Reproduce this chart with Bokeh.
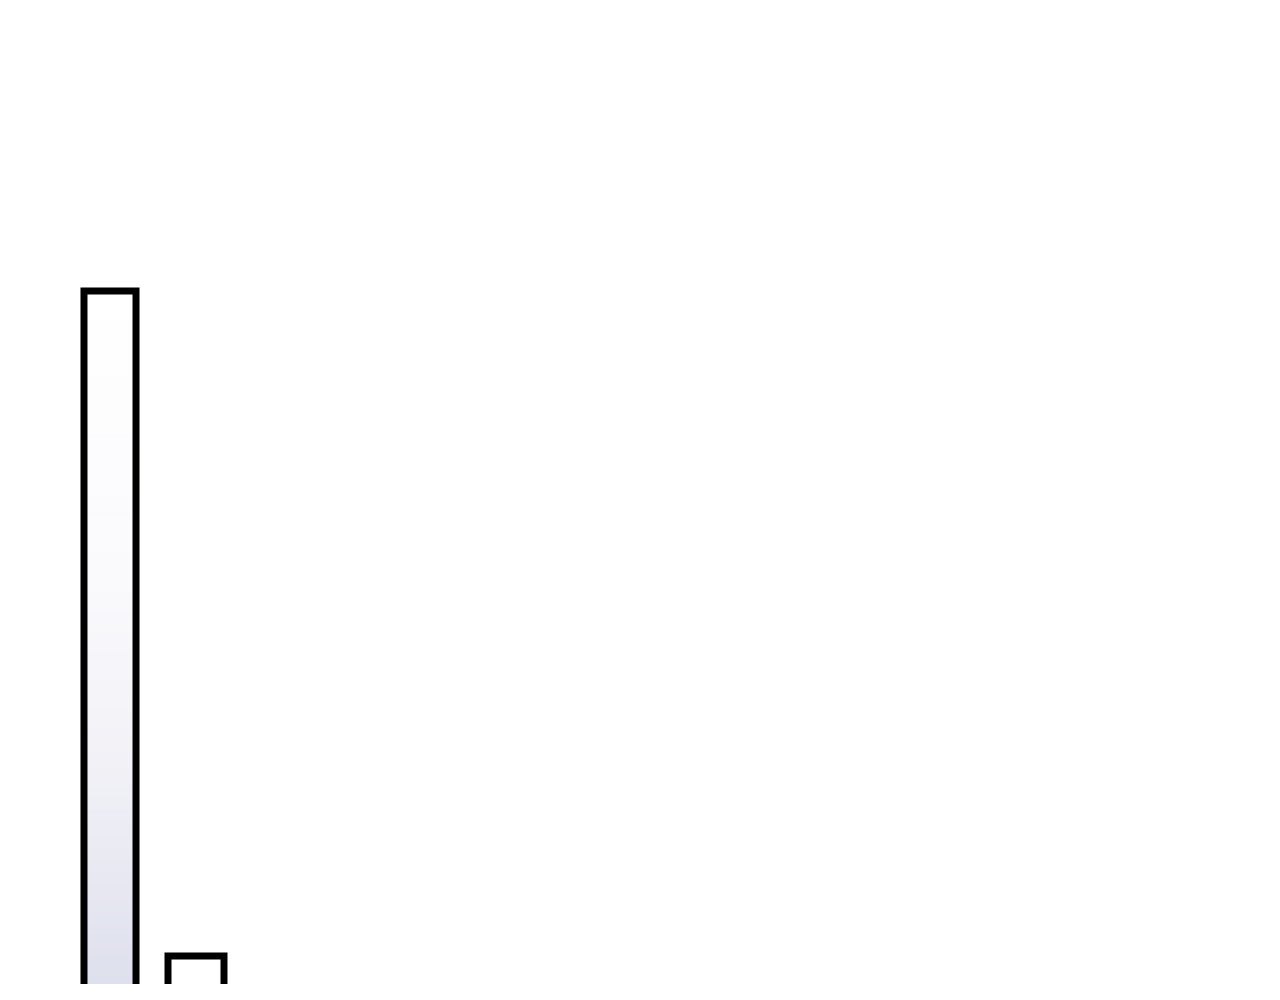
import numpy as np
from bokeh.plotting import figure
from bokeh.models import Range1d
from bokeh.embed import file_html
from bokeh.resources import INLINE

# data
positions = [1, 2]
values = [1000, 300]
widths = [0.605, 0.651]

W, H = 1264, 984
PX_PER_X = 86.0
PX_PER_Y = 0.95
x_start = 1 - 109.5 / PX_PER_X
y_end = 1000 + 290.5 / PX_PER_Y
y_start = y_end - H / PX_PER_Y

p = figure(width=W, height=H, output_backend="svg", toolbar_location=None,
           x_range=Range1d(x_start, x_start + W / PX_PER_X),
           y_range=Range1d(y_start, y_end),
           x_axis_location=None, y_axis_location=None, min_border=0)
p.grid.visible = False
p.outline_line_color = None
p.background_fill_color = "white"
p.border_fill_color = "white"

# vertical gradient style: depth below bar top (px) -> rgb
stop_px = np.array([0, 290, 490, 713, 1100])
stop_rgb = np.array([[255, 255, 255], [250, 250, 253], [240, 240, 246],
                     [220, 222, 236], [200, 204, 226]], dtype=float)

left, right, bottom, top, colors = [], [], [], [], []
step = 6.0
for xv, v, bw in zip(positions, values, widths):
    d = 0.0
    while v - d > 0:
        dmid_px = (d + step / 2) * PX_PER_Y
        rgb = [np.interp(dmid_px, stop_px, stop_rgb[:, c]) for c in range(3)]
        colors.append("#%02x%02x%02x" % tuple(int(round(c)) for c in rgb))
        left.append(xv - bw / 2)
        right.append(xv + bw / 2)
        top.append(v - d)
        bottom.append(max(v - d - step, 0))
        d += step

p.quad(left=left, right=right, bottom=bottom, top=top,
       fill_color=colors, line_color=colors, line_width=1)

# open-bottom outline (bars continue past the lower edge)
xs_out, ys_out = [], []
for xv, v, bw in zip(positions, values, widths):
    xs_out.append([xv - bw / 2, xv - bw / 2, xv + bw / 2, xv + bw / 2])
    ys_out.append([0, v, v, 0])
p.multi_line(xs=xs_out, ys=ys_out, line_color="black", line_width=7,
             line_join="miter")

open("out.html", "w").write(file_html(p, INLINE))
